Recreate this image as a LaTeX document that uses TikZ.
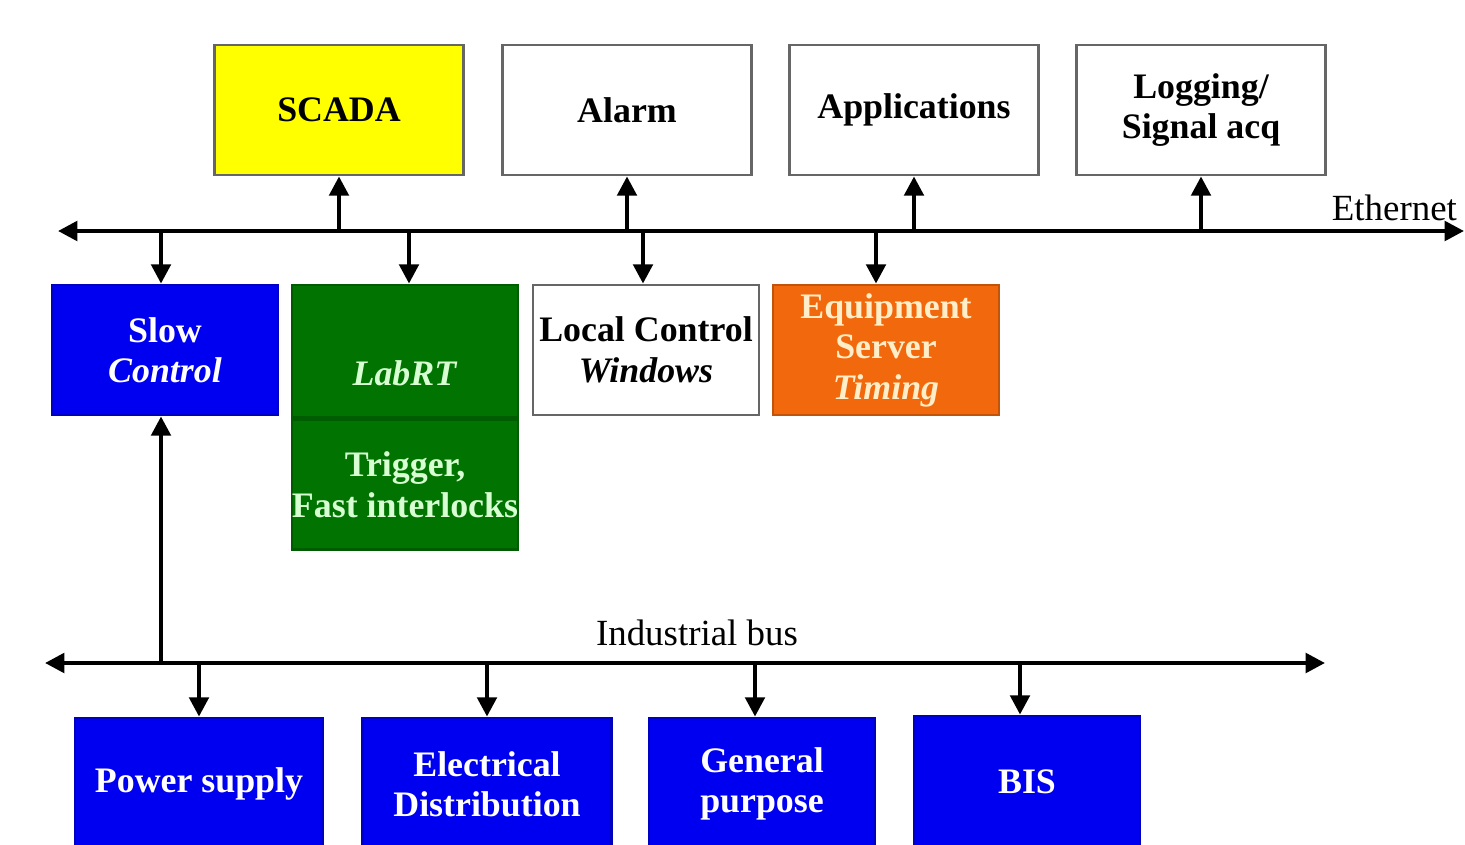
\documentclass[tikz,border=0pt]{standalone}
\usepackage{fontspec}
\setmainfont{Liberation Serif}
\usetikzlibrary{arrows.meta,positioning}

\definecolor{scadayellow}{RGB}{255,255,0}
\definecolor{busblue}{RGB}{0,0,240}
\definecolor{rtgreen}{RGB}{0,115,0}
\definecolor{eqorange}{RGB}{242,104,12}
\definecolor{lightgreen}{RGB}{215,255,210}
\definecolor{lightyellow}{RGB}{255,238,200}

\begin{document}
\begin{tikzpicture}[x=0.1mm, y=-0.1mm, very thick, >={Triangle[length=5.5pt,width=5.5pt]},
                    main node/.style={rectangle,draw=black!60,thick,inner sep=0pt,align=center,
                                      font=\fontsize{10.2}{11.5}\selectfont\bfseries},
                    top node/.style={main node,minimum width=2.49cm,minimum height=1.3cm},
                    mid node/.style={main node,minimum width=2.26cm,minimum height=1.3cm},
                    low node/.style={main node,minimum height=1.32cm,fill=busblue,draw=busblue!80!black,text=white},
                    bus label/.style={font=\fontsize{10.5}{11.5}\selectfont}]

  \useasboundingbox (0,0) rectangle (1465,845);

  % upper row
  \node[top node,fill=scadayellow] (scada) at (339,110) {SCADA};
  \node[top node] (alarm) at (627,110) {Alarm};
  \node[top node] (apps) at (914,110) {Applications};
  \node[top node] (logging) at (1201,110) {Logging/\\Signal acq};

  % ethernet
  \coordinate (ethL) at (58,231);
  \coordinate (ethR) at (1464,231);
  \draw[<->] (ethL) -- (ethR);
  \node[bus label,anchor=base east,inner xsep=0pt] (ethlabel) at (1459,220) {Ethernet};

  % middle row
  \node[mid node,fill=busblue,draw=busblue!80!black,text=white] (slow) at (165,350) {Slow\\\textit{Control}};
  \node[mid node,fill=rtgreen,draw=rtgreen!80!black,text=lightgreen,minimum height=1.32cm] (labrt) at (405,351) {\strut\\\textit{LabRT}};
  \node[mid node,fill=rtgreen,draw=rtgreen!80!black,text=lightgreen] (trigger) [below=0pt of labrt] {Trigger,\\Fast interlocks};
  \node[mid node] (local) at (646,350) {Local Control\\\textit{Windows}};
  \node[mid node,fill=eqorange,draw=eqorange!80!black,text=lightyellow] (equip) at (886,350) {Equipment\\Server\\\textit{Timing}};

  % industrial bus
  \coordinate (indL) at (45,663);
  \coordinate (indR) at (1325,663);
  \draw[<->] (indL) -- (indR);
  \node[bus label,anchor=base] (indlabel) at (697,645) {Industrial bus};

  % lower row
  \node[low node,minimum width=2.48cm] (power) at (199,784) {Power supply};
  \node[low node,minimum width=2.49cm] (elec) at (487,784) {Electrical\\Distribution};
  \node[low node,minimum width=2.26cm] (general) at (762,784) {General\\purpose};
  \node[low node,minimum width=2.26cm] (bis) at (1027,782) {BIS};

  \path[->]
    (scada.south |- ethL) edge (scada.south)
    (alarm.south |- ethL) edge (alarm.south)
    (apps.south |- ethL) edge (apps.south)
    (logging.south |- ethL) edge (logging.south)

    ([xshift=-0.4mm]slow.north |- ethL) edge ([xshift=-0.4mm]slow.north)
    ([xshift=0.4mm]labrt.north |- ethL) edge ([xshift=0.4mm]labrt.north)
    ([xshift=-0.3mm]local.north |- ethL) edge ([xshift=-0.3mm]local.north)
    ([xshift=-1mm]equip.north |- ethL) edge ([xshift=-1mm]equip.north)

    ([xshift=-0.4mm]slow.south |- indL) edge ([xshift=-0.4mm]slow.south)
    (power.north |- indL) edge (power.north)
    (elec.north |- indL) edge (elec.north)
    ([xshift=-0.7mm]general.north |- indL) edge ([xshift=-0.7mm]general.north)
    ([xshift=-0.7mm]bis.north |- indL) edge ([xshift=-0.7mm]bis.north);

\end{tikzpicture}
\end{document}
